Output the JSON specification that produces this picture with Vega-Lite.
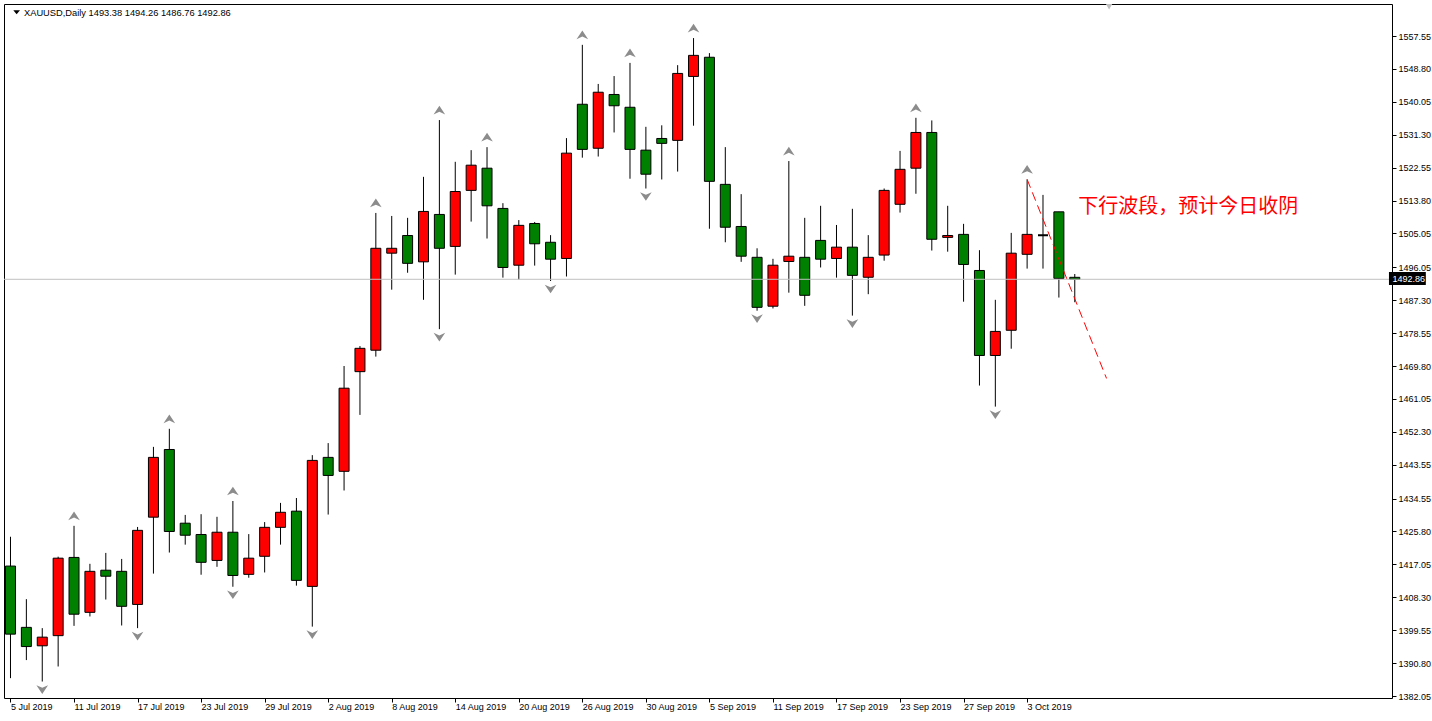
{
  "$schema": "https://vega.github.io/schema/vega-lite/v6.json",
  "width": 1388,
  "height": 694,
  "autosize": {"type": "none"},
  "padding": {"left": 4, "top": 4, "right": 40, "bottom": 23},
  "background": "white",
  "config": {
    "view": {"stroke": "black", "strokeWidth": 1},
    "axis": {"grid": false, "labelOverlap": false, "labelFont": "Liberation Sans", "labelFontSize": 9, "labelColor": "black", "tickColor": "black", "domain": false, "title": null}
  },
  "datasets": {
    "ohlc": [
      {"i": 0, "date": "5 Jul", "o": 1416.6, "h": 1424.4, "l": 1386.8, "c": 1398.5},
      {"i": 1, "date": "8 Jul", "o": 1400.3, "h": 1407.8, "l": 1391.6, "c": 1395.2},
      {"i": 2, "date": "9 Jul", "o": 1395.4, "h": 1400.1, "l": 1385.9, "c": 1397.7},
      {"i": 3, "date": "10 Jul", "o": 1398.1, "h": 1419.1, "l": 1389.9, "c": 1418.7},
      {"i": 4, "date": "11 Jul", "o": 1418.9, "h": 1427.3, "l": 1400.7, "c": 1403.8},
      {"i": 5, "date": "12 Jul", "o": 1404.3, "h": 1417.2, "l": 1403.2, "c": 1415.2},
      {"i": 6, "date": "15 Jul", "o": 1415.5, "h": 1420.1, "l": 1407.7, "c": 1413.9},
      {"i": 7, "date": "16 Jul", "o": 1415.2, "h": 1418.5, "l": 1400.8, "c": 1405.9},
      {"i": 8, "date": "17 Jul", "o": 1406.4, "h": 1427.0, "l": 1400.1, "c": 1426.1},
      {"i": 9, "date": "18 Jul", "o": 1429.6, "h": 1448.3, "l": 1414.6, "c": 1445.5},
      {"i": 10, "date": "19 Jul", "o": 1447.6, "h": 1453.1, "l": 1420.2, "c": 1425.8},
      {"i": 11, "date": "22 Jul", "o": 1428.0, "h": 1430.2, "l": 1422.3, "c": 1424.8},
      {"i": 12, "date": "23 Jul", "o": 1425.0, "h": 1430.4, "l": 1414.3, "c": 1417.6},
      {"i": 13, "date": "24 Jul", "o": 1418.1, "h": 1429.7, "l": 1416.4, "c": 1425.6},
      {"i": 14, "date": "25 Jul", "o": 1425.6, "h": 1433.9, "l": 1411.1, "c": 1414.1},
      {"i": 15, "date": "26 Jul", "o": 1414.4, "h": 1425.1, "l": 1413.5, "c": 1418.7},
      {"i": 16, "date": "29 Jul", "o": 1419.2, "h": 1428.3, "l": 1414.9, "c": 1426.9},
      {"i": 17, "date": "30 Jul", "o": 1426.9, "h": 1433.4, "l": 1422.3, "c": 1430.9},
      {"i": 18, "date": "31 Jul", "o": 1431.2, "h": 1434.7, "l": 1411.4, "c": 1412.8},
      {"i": 19, "date": "1 Aug", "o": 1411.2, "h": 1446.1, "l": 1400.5, "c": 1444.7},
      {"i": 20, "date": "2 Aug", "o": 1445.5, "h": 1449.3, "l": 1430.3, "c": 1440.7},
      {"i": 21, "date": "5 Aug", "o": 1441.8, "h": 1469.8, "l": 1436.7, "c": 1463.9},
      {"i": 22, "date": "6 Aug", "o": 1468.3, "h": 1475.1, "l": 1456.8, "c": 1474.5},
      {"i": 23, "date": "7 Aug", "o": 1474.0, "h": 1510.5, "l": 1472.3, "c": 1501.1},
      {"i": 24, "date": "8 Aug", "o": 1499.8, "h": 1509.7, "l": 1490.1, "c": 1501.1},
      {"i": 25, "date": "9 Aug", "o": 1504.5, "h": 1509.2, "l": 1494.6, "c": 1497.1},
      {"i": 26, "date": "12 Aug", "o": 1497.5, "h": 1520.1, "l": 1487.4, "c": 1510.9},
      {"i": 27, "date": "13 Aug", "o": 1510.1, "h": 1535.2, "l": 1479.6, "c": 1501.1},
      {"i": 28, "date": "14 Aug", "o": 1501.6, "h": 1524.1, "l": 1494.1, "c": 1516.2},
      {"i": 29, "date": "15 Aug", "o": 1516.5, "h": 1527.2, "l": 1508.2, "c": 1523.2},
      {"i": 30, "date": "16 Aug", "o": 1522.4, "h": 1528.0, "l": 1503.7, "c": 1512.4},
      {"i": 31, "date": "19 Aug", "o": 1511.7, "h": 1513.1, "l": 1493.3, "c": 1496.0},
      {"i": 32, "date": "20 Aug", "o": 1496.6, "h": 1508.6, "l": 1492.8, "c": 1507.2},
      {"i": 33, "date": "21 Aug", "o": 1507.7, "h": 1508.1, "l": 1496.5, "c": 1502.3},
      {"i": 34, "date": "22 Aug", "o": 1502.7, "h": 1504.6, "l": 1492.4, "c": 1498.2},
      {"i": 35, "date": "23 Aug", "o": 1498.4, "h": 1530.4, "l": 1493.6, "c": 1526.4},
      {"i": 36, "date": "26 Aug", "o": 1539.4, "h": 1555.2, "l": 1525.2, "c": 1527.4},
      {"i": 37, "date": "27 Aug", "o": 1527.7, "h": 1544.8, "l": 1525.5, "c": 1542.6},
      {"i": 38, "date": "28 Aug", "o": 1542.0, "h": 1546.9, "l": 1531.9, "c": 1539.0},
      {"i": 39, "date": "29 Aug", "o": 1538.6, "h": 1550.4, "l": 1519.6, "c": 1527.4},
      {"i": 40, "date": "30 Aug", "o": 1527.2, "h": 1533.4, "l": 1517.0, "c": 1520.8},
      {"i": 41, "date": "2 Sep", "o": 1530.3, "h": 1533.8, "l": 1519.4, "c": 1529.0},
      {"i": 42, "date": "3 Sep", "o": 1529.8, "h": 1549.8, "l": 1521.5, "c": 1547.6},
      {"i": 43, "date": "4 Sep", "o": 1546.8, "h": 1557.0, "l": 1533.7, "c": 1552.4},
      {"i": 44, "date": "5 Sep", "o": 1551.9, "h": 1553.0, "l": 1506.3, "c": 1518.9},
      {"i": 45, "date": "6 Sep", "o": 1518.1, "h": 1528.0, "l": 1502.7, "c": 1506.7},
      {"i": 46, "date": "9 Sep", "o": 1506.9, "h": 1515.5, "l": 1497.5, "c": 1499.0},
      {"i": 47, "date": "10 Sep", "o": 1498.7, "h": 1501.1, "l": 1484.5, "c": 1485.4},
      {"i": 48, "date": "11 Sep", "o": 1485.7, "h": 1498.3, "l": 1485.1, "c": 1496.6},
      {"i": 49, "date": "12 Sep", "o": 1497.6, "h": 1524.3, "l": 1489.3, "c": 1499.0},
      {"i": 50, "date": "13 Sep", "o": 1498.7, "h": 1509.2, "l": 1485.8, "c": 1488.6},
      {"i": 51, "date": "16 Sep", "o": 1503.2, "h": 1512.4, "l": 1496.0, "c": 1498.2},
      {"i": 52, "date": "17 Sep", "o": 1498.4, "h": 1507.3, "l": 1493.3, "c": 1501.4},
      {"i": 53, "date": "18 Sep", "o": 1501.4, "h": 1511.6, "l": 1483.2, "c": 1493.9},
      {"i": 54, "date": "19 Sep", "o": 1493.4, "h": 1504.6, "l": 1488.9, "c": 1498.7},
      {"i": 55, "date": "20 Sep", "o": 1499.3, "h": 1517.0, "l": 1497.8, "c": 1516.5},
      {"i": 56, "date": "23 Sep", "o": 1512.8, "h": 1527.0, "l": 1510.6, "c": 1522.1},
      {"i": 57, "date": "24 Sep", "o": 1522.4, "h": 1535.8, "l": 1515.6, "c": 1531.9},
      {"i": 58, "date": "25 Sep", "o": 1531.9, "h": 1535.1, "l": 1500.5, "c": 1503.5},
      {"i": 59, "date": "26 Sep", "o": 1504.0, "h": 1512.4, "l": 1500.2, "c": 1504.5},
      {"i": 60, "date": "27 Sep", "o": 1504.8, "h": 1507.6, "l": 1486.9, "c": 1496.8},
      {"i": 61, "date": "30 Sep", "o": 1495.2, "h": 1500.6, "l": 1464.6, "c": 1472.6},
      {"i": 62, "date": "1 Oct", "o": 1472.6, "h": 1487.4, "l": 1459.0, "c": 1479.0},
      {"i": 63, "date": "2 Oct", "o": 1479.3, "h": 1505.2, "l": 1474.4, "c": 1499.8},
      {"i": 64, "date": "3 Oct", "o": 1499.5, "h": 1519.4, "l": 1495.7, "c": 1504.8},
      {"i": 65, "date": "4 Oct", "o": 1504.6, "h": 1515.3, "l": 1495.7, "c": 1504.6},
      {"i": 66, "date": "7 Oct", "o": 1510.8, "h": 1510.8, "l": 1488.0, "c": 1493.1},
      {"i": 67, "date": "8 Oct", "o": 1493.38, "h": 1494.26, "l": 1486.76, "c": 1492.86}
    ],
    "fracUp": [
      {"i": 4, "p": 1427.3}, {"i": 10, "p": 1453.1}, {"i": 14, "p": 1433.9}, {"i": 23, "p": 1510.5},
      {"i": 27, "p": 1535.2}, {"i": 30, "p": 1528.0}, {"i": 36, "p": 1555.2}, {"i": 39, "p": 1550.4},
      {"i": 43, "p": 1557.0}, {"i": 49, "p": 1524.3}, {"i": 57, "p": 1535.8}, {"i": 64, "p": 1519.4}
    ],
    "fracDown": [
      {"i": 2, "p": 1385.9}, {"i": 8, "p": 1400.1}, {"i": 14, "p": 1411.1}, {"i": 19, "p": 1400.5},
      {"i": 27, "p": 1479.6}, {"i": 34, "p": 1492.4}, {"i": 40, "p": 1517.0}, {"i": 47, "p": 1484.5},
      {"i": 53, "p": 1483.2}, {"i": 62, "p": 1459.0}
    ],
    "trend": [
      {"i": 64, "p": 1519.44},
      {"i": 69, "p": 1466.5}
    ],
    "one": [{"k": 1}]
  },
  "layer": [
    {
      "data": {"name": "ohlc"},
      "mark": {"type": "rule", "color": "black", "strokeWidth": 1, "clip": true},
      "encoding": {
        "x": {
          "field": "i", "type": "quantitative",
          "scale": {"domain": [-0.09375, 86.65625], "nice": false, "zero": false},
          "axis": {
            "orient": "bottom", "title": null, "grid": false, "domain": false,
            "values": [0, 4, 8, 12, 16, 20, 24, 28, 32, 36, 40, 44, 48, 52, 56, 60, 64],
            "tickCount": 60,
            "labelExpr": "['5 Jul 2019','11 Jul 2019','17 Jul 2019','23 Jul 2019','29 Jul 2019','2 Aug 2019','8 Aug 2019','14 Aug 2019','20 Aug 2019','26 Aug 2019','30 Aug 2019','5 Sep 2019','11 Sep 2019','17 Sep 2019','23 Sep 2019','27 Sep 2019','3 Oct 2019'][round(datum.value/4)]",
            "tickSize": 4, "tickColor": "black", "labelAlign": "left", "labelPadding": 0,
            "labelFont": "Liberation Sans", "labelFontSize": 9, "labelColor": "black",
            "labelOverlap": false, "labelFlush": false, "labelBound": false
          }
        },
        "y": {
          "field": "l", "type": "quantitative",
          "scale": {"domain": [1381.52, 1566.06], "nice": false, "zero": false},
          "axis": {
            "orient": "right", "title": null, "grid": false, "domain": false,
            "values": [1382.05, 1390.8, 1399.55, 1408.3, 1417.05, 1425.8, 1434.55, 1443.55, 1452.3, 1461.05, 1469.8, 1478.55, 1487.3, 1496.05, 1505.05, 1513.8, 1522.55, 1531.3, 1540.05, 1548.8, 1557.55],
            "tickCount": 60,
            "format": ".2f", "tickSize": 4, "tickColor": "black", "labelPadding": 2,
            "labelFont": "Liberation Sans", "labelFontSize": 9, "labelColor": "black",
            "labelOverlap": false, "labelFlush": false, "labelBound": false
          }
        },
        "y2": {"field": "h"}
      }
    },
    {
      "data": {"name": "ohlc"},
      "mark": {"type": "bar", "size": 10, "stroke": "black", "strokeWidth": 1, "clip": true},
      "encoding": {
        "x": {"field": "i", "type": "quantitative"},
        "y": {"field": "o", "type": "quantitative"},
        "y2": {"field": "c"},
        "fill": {
          "condition": [
            {"test": "datum.c == datum.o", "value": "black"},
            {"test": "datum.c > datum.o", "value": "#ff0000"}
          ],
          "value": "#008000"
        },
        "strokeWidth": {"condition": {"test": "datum.c == datum.o", "value": 2}, "value": 1}
      }
    },
    {
      "data": {"name": "fracUp"},
      "mark": {"type": "point", "shape": "M0,-0.75L1,0.75L0,0.3L-1,0.75Z", "size": 135, "filled": true, "color": "#8c8c8c", "opacity": 1, "yOffset": -10, "clip": true},
      "encoding": {
        "x": {"field": "i", "type": "quantitative"},
        "y": {"field": "p", "type": "quantitative"}
      }
    },
    {
      "data": {"name": "fracDown"},
      "mark": {"type": "point", "shape": "M0,0.75L1,-0.75L0,-0.3L-1,-0.75Z", "size": 135, "filled": true, "color": "#8c8c8c", "opacity": 1, "yOffset": 8, "clip": true},
      "encoding": {
        "x": {"field": "i", "type": "quantitative"},
        "y": {"field": "p", "type": "quantitative"}
      }
    },
    {
      "data": {"name": "one"},
      "mark": {"type": "rule", "color": "#c0c0c0", "strokeWidth": 1},
      "encoding": {
        "y": {"datum": 1492.86, "type": "quantitative"}
      }
    },
    {
      "data": {"name": "trend"},
      "mark": {"type": "line", "color": "#ff0000", "strokeWidth": 1, "strokeDash": [9, 5], "clip": true},
      "encoding": {
        "x": {"field": "i", "type": "quantitative"},
        "y": {"field": "p", "type": "quantitative"}
      }
    },
    {
      "data": {"name": "one"},
      "mark": {"type": "text", "text": "下行波段，预计今日收阴", "font": "Noto Sans CJK SC", "fontSize": 20, "color": "#ff0000", "align": "left", "baseline": "middle"},
      "encoding": {
        "x": {"datum": 67.22, "type": "quantitative"},
        "y": {"datum": 1512.08, "type": "quantitative"}
      }
    },
    {
      "data": {"name": "one"},
      "mark": {"type": "point", "shape": "M-1,-0.6L1,-0.6L0,0.6Z", "size": 45, "filled": true, "color": "black", "opacity": 1},
      "encoding": {
        "x": {"datum": 0.3875, "type": "quantitative"},
        "y": {"datum": 1563.85, "type": "quantitative"}
      }
    },
    {
      "data": {"name": "one"},
      "mark": {"type": "text", "text": "XAUUSD,Daily   1493.38 1494.26 1486.76 1492.86", "font": "Liberation Sans", "fontSize": 9.3, "color": "black", "align": "left", "baseline": "middle"},
      "encoding": {
        "x": {"datum": 0.85, "type": "quantitative"},
        "y": {"datum": 1563.67, "type": "quantitative"}
      }
    },
    {
      "data": {"name": "one"},
      "mark": {"type": "point", "shape": "triangle-down", "size": 40, "filled": true, "color": "#c0c0c0", "opacity": 1},
      "encoding": {
        "x": {"datum": 69.16, "type": "quantitative"},
        "y": {"datum": 1565.3, "type": "quantitative"}
      }
    },
    {
      "data": {"name": "one"},
      "mark": {"type": "rect", "color": "black", "clip": false},
      "encoding": {
        "x": {"datum": 86.78, "type": "quantitative"},
        "x2": {"datum": 89.1},
        "y": {"datum": 1494.8, "type": "quantitative"},
        "y2": {"datum": 1491.34}
      }
    },
    {
      "data": {"name": "one"},
      "mark": {"type": "text", "text": "1492.86", "font": "Liberation Sans", "fontSize": 9, "color": "white", "align": "left", "baseline": "middle", "clip": false},
      "encoding": {
        "x": {"datum": 87.0, "type": "quantitative"},
        "y": {"datum": 1492.86, "type": "quantitative"}
      }
    }
  ]
}
